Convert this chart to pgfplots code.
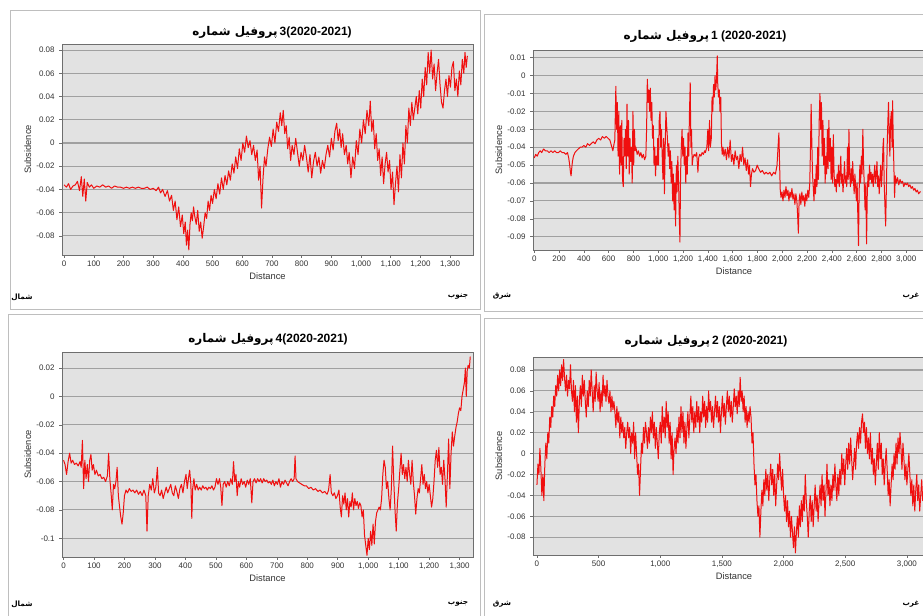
\documentclass[border=0pt]{standalone}
\usepackage{fontspec}
\usepackage{pgfplots}
\pgfplotsset{compat=1.18}
\setmainfont{Liberation Sans}
\newfontfamily\arabicfont[Script=Arabic]{DejaVu Sans}
\TeXXeTstate=1
\definecolor{plotbg}{RGB}{226,226,226}
\definecolor{gridc}{RGB}{160,160,160}
\definecolor{axisc}{RGB}{110,110,110}
\definecolor{framec}{RGB}{190,190,190}
\definecolor{linec}{RGB}{240,15,15}
\pgfplotsset{
  panel/.style={
    scale only axis, scaled ticks=false,
    axis background/.style={fill=plotbg},
    axis line style={draw=axisc, line width=0.5pt},
    ymajorgrids, grid style={draw=gridc, line width=0.8pt},
    tick align=outside, major tick length=2pt,
    tick style={draw=axisc, line width=0.4pt},
    xtick pos=bottom, ytick pos=left,
    ticklabel style={font=\fontsize{6}{7}\selectfont, text=black!80},
    xticklabel style={yshift=1pt},
    xlabel={Distance}, ylabel={Subsidence},
    xlabel style={font=\fontsize{7}{8}\selectfont, text=black!80, yshift=3pt},
    ylabel style={font=\fontsize{7}{8}\selectfont, text=black!80, yshift=-3pt},
    clip=true,
  },
  sline/.style={linec, line width=0.75pt, mark=none, line join=round},
}
\newcommand\ttl[1]{{\arabicfont\bfseries\beginR پروفیل شماره\endR}\,#1}
\begin{document}
\begin{tikzpicture}
\path[use as bounding box] (0pt,0pt) rectangle (692.25pt,-462pt);
\clip (0pt,0pt) rectangle (692.25pt,-462pt);
\fill[white] (0pt,0pt) rectangle (692.25pt,-462pt);
\begin{scope}[x=0.75pt,y=-0.75pt]
  \draw[framec, line width=0.6pt] (10,10) rectangle (480,309);
  \draw[framec, line width=0.6pt] (484,14) rectangle (930,311);
  \draw[framec, line width=0.6pt] (8,314) rectangle (480,620);
  \draw[framec, line width=0.6pt] (484,318) rectangle (930,620);
  % titles
  \node[font=\fontsize{9}{10}\selectfont\bfseries] at (272,32) {\ttl{3(2020-2021)}};
  \node[font=\fontsize{9}{10}\selectfont\bfseries] at (705,36) {\ttl{1 (2020-2021)}};
  \node[font=\fontsize{9}{10}\selectfont\bfseries] at (268,339) {\ttl{4(2020-2021)}};
  \node[font=\fontsize{9}{10}\selectfont\bfseries] at (706,341) {\ttl{2 (2020-2021)}};
  % corner labels
  \node[font=\fontsize{5.5}{6}\selectfont] at (22,297) {\arabicfont\bfseries\beginR شمال\endR};
  \node[font=\fontsize{5.5}{6}\selectfont] at (458,297) {\arabicfont\bfseries\beginR جنوب\endR};
  \node[font=\fontsize{5.5}{6}\selectfont] at (502,296) {\arabicfont\bfseries\beginR شرق\endR};
  \node[font=\fontsize{5.5}{6}\selectfont] at (911,296) {\arabicfont\bfseries\beginR غرب\endR};
  \node[font=\fontsize{5.5}{6}\selectfont] at (22,604) {\arabicfont\bfseries\beginR شمال\endR};
  \node[font=\fontsize{5.5}{6}\selectfont] at (458,604) {\arabicfont\bfseries\beginR جنوب\endR};
  \node[font=\fontsize{5.5}{6}\selectfont] at (502,604) {\arabicfont\bfseries\beginR شرق\endR};
  \node[font=\fontsize{5.5}{6}\selectfont] at (911,604) {\arabicfont\bfseries\beginR غرب\endR};
\end{scope}

% ---------------- Profile 3 (top left)
\begin{axis}[panel, at={(46.5pt,-191.25pt)}, anchor=south west,
  width=308.25pt, height=158.25pt,
  xmin=-7, xmax=1377, ymin=-0.0964, ymax=0.0852,
  xtick={0,100,...,1300},
  xticklabels={0,100,200,300,400,500,600,700,800,900,{1,000},{1,100},{1,200},{1,300}},
  ytick={-0.08,-0.06,-0.04,-0.02,0,0.02,0.04,0.06,0.08},
  yticklabels={-0.08,-0.06,-0.04,-0.02,0,0.02,0.04,0.06,0.08}]
\addplot[sline] coordinates {
(0,-0.036)(8,-0.038)(15,-0.035)(22,-0.040)(30,-0.037)(38,-0.036)(45,-0.033)(52,-0.041)(58,-0.029)(63,-0.046)(68,-0.031)(73,-0.050)(78,-0.034)(85,-0.038)(92,-0.036)(100,-0.039)(110,-0.037)(120,-0.038)(130,-0.036)(140,-0.038)(150,-0.037)(160,-0.039)(170,-0.037)(180,-0.038)(190,-0.038)(200,-0.039)(210,-0.038)(220,-0.039)(230,-0.038)(240,-0.039)(250,-0.038)(260,-0.039)(270,-0.039)(280,-0.038)(290,-0.040)(300,-0.039)(310,-0.041)(318,-0.038)(325,-0.043)(332,-0.040)(340,-0.046)(348,-0.041)(355,-0.050)(362,-0.045)(368,-0.058)(374,-0.050)(380,-0.066)(386,-0.055)(392,-0.072)(398,-0.062)(403,-0.078)(408,-0.068)(412,-0.088)(416,-0.075)(420,-0.092)(424,-0.070)(428,-0.060)(432,-0.067)(436,-0.055)(440,-0.063)(445,-0.070)(450,-0.058)(455,-0.076)(460,-0.068)(465,-0.082)(470,-0.072)(475,-0.060)(480,-0.065)(485,-0.050)(490,-0.058)(495,-0.045)(500,-0.052)(506,-0.040)(512,-0.048)(518,-0.035)(524,-0.044)(530,-0.030)(536,-0.040)(542,-0.028)(548,-0.036)(554,-0.024)(560,-0.032)(566,-0.018)(572,-0.026)(578,-0.012)(584,-0.022)(590,-0.005)(596,-0.015)(602,0.000)(608,-0.008)(614,0.006)(620,-0.004)(626,0.002)(632,-0.010)(638,-0.002)(644,-0.015)(650,-0.006)(655,-0.032)(660,-0.020)(665,-0.056)(670,-0.030)(675,-0.012)(680,-0.020)(686,-0.005)(692,0.005)(698,-0.003)(704,0.012)(710,0.000)(716,0.018)(722,0.010)(728,0.026)(733,0.015)(738,0.028)(743,0.008)(748,0.015)(753,-0.005)(758,0.005)(763,-0.015)(768,-0.002)(774,-0.010)(780,0.004)(786,-0.008)(792,-0.020)(798,-0.008)(804,-0.015)(810,-0.002)(816,-0.012)(822,-0.025)(828,-0.010)(834,-0.030)(840,-0.016)(846,-0.008)(852,-0.020)(858,-0.012)(864,-0.026)(870,-0.015)(876,-0.022)(882,-0.010)(888,-0.002)(894,-0.012)(900,0.004)(906,-0.006)(912,0.010)(918,0.017)(923,0.002)(928,0.012)(933,-0.004)(938,0.008)(944,-0.010)(950,-0.002)(955,-0.018)(960,-0.008)(966,-0.030)(972,-0.012)(978,-0.022)(984,0.002)(990,-0.010)(996,0.012)(1002,0.000)(1008,0.020)(1014,0.008)(1020,0.028)(1026,0.015)(1031,0.036)(1036,0.010)(1041,0.020)(1046,-0.005)(1051,0.008)(1056,-0.015)(1061,-0.005)(1066,-0.028)(1071,-0.012)(1076,-0.035)(1081,-0.018)(1086,-0.008)(1091,-0.025)(1096,-0.015)(1101,-0.040)(1106,-0.025)(1111,-0.053)(1116,-0.035)(1121,-0.020)(1126,-0.042)(1131,-0.010)(1136,-0.030)(1141,0.000)(1146,-0.018)(1151,0.015)(1156,0.000)(1161,0.030)(1166,0.015)(1171,0.035)(1176,0.020)(1181,0.030)(1186,0.040)(1191,0.025)(1196,0.045)(1201,0.030)(1206,0.055)(1211,0.040)(1216,0.065)(1221,0.050)(1226,0.078)(1231,0.060)(1236,0.080)(1241,0.055)(1246,0.068)(1251,0.045)(1256,0.060)(1261,0.072)(1266,0.050)(1271,0.035)(1276,0.030)(1281,0.045)(1286,0.055)(1291,0.040)(1296,0.058)(1301,0.048)(1306,0.065)(1311,0.070)(1316,0.045)(1321,0.055)(1326,0.040)(1331,0.062)(1336,0.050)(1341,0.072)(1346,0.060)(1350,0.078)(1354,0.065)(1358,0.075)
};
\end{axis}

% ---------------- Profile 1 (top right)
\begin{axis}[panel, at={(399.75pt,-187.5pt)}, anchor=south west,
  width=301.5pt, height=150pt,
  xmin=-10, xmax=3232, ymin=-0.0974, ymax=0.0143,
  xtick={0,200,...,3000},
  xticklabels={0,200,400,600,800,{1,000},{1,200},{1,400},{1,600},{1,800},{2,000},{2,200},{2,400},{2,600},{2,800},{3,000}},
  ytick={-0.09,-0.08,-0.07,-0.06,-0.05,-0.04,-0.03,-0.02,-0.01,0,0.01},
  yticklabels={-0.09,-0.08,-0.07,-0.06,-0.05,-0.04,-0.03,-0.02,-0.01,0,0.01}]
\addplot[sline] coordinates {
(0,-0.046)(12,-0.044)(24,-0.045)(36,-0.043)(48,-0.042)(60,-0.043)(75,-0.041)(90,-0.042)(105,-0.042)(120,-0.043)(135,-0.042)(150,-0.043)(165,-0.042)(180,-0.043)(195,-0.043)(210,-0.042)(225,-0.043)(240,-0.043)(255,-0.044)(268,-0.043)(278,-0.046)(286,-0.050)(292,-0.054)(297,-0.056)(302,-0.052)(308,-0.048)(316,-0.045)(328,-0.043)(340,-0.042)(355,-0.041)(370,-0.040)(385,-0.040)(400,-0.039)(415,-0.040)(430,-0.038)(445,-0.039)(460,-0.038)(475,-0.037)(490,-0.038)(505,-0.036)(520,-0.035)(535,-0.036)(550,-0.034)(565,-0.035)(580,-0.034)(595,-0.035)(610,-0.036)(622,-0.039)(634,-0.042)(644,-0.038)
(650,-0.036)(658,-0.006)(664,-0.030)(670,-0.015)(676,-0.045)(682,-0.020)(688,-0.055)(694,-0.028)(700,-0.050)(706,-0.025)(712,-0.058)(718,-0.062)(724,-0.035)(730,-0.045)(736,-0.030)(742,-0.052)(748,-0.016)(754,-0.045)(760,-0.025)(766,-0.055)(772,-0.035)(778,-0.048)(784,-0.040)(790,-0.060)(796,-0.020)(802,-0.050)(808,-0.030)(814,-0.042)(820,-0.040)(830,-0.044)(840,-0.042)(850,-0.045)(860,-0.043)(870,-0.046)(880,-0.044)(890,-0.047)(900,-0.045)(906,-0.030)(912,-0.002)(918,-0.015)(924,-0.008)(930,-0.020)(936,-0.007)(942,-0.025)(948,-0.015)(954,-0.035)(960,-0.028)(966,-0.050)(972,-0.040)(978,-0.056)(984,-0.045)(990,-0.050)(996,-0.035)(1002,-0.050)(1008,-0.025)(1014,-0.020)(1020,-0.040)(1026,-0.030)(1032,-0.045)(1038,-0.058)(1044,-0.035)(1050,-0.066)(1056,-0.040)(1062,-0.020)(1068,-0.028)(1074,-0.035)(1080,-0.045)(1086,-0.038)(1092,-0.052)(1098,-0.042)(1104,-0.060)(1110,-0.048)(1116,-0.070)(1122,-0.055)(1128,-0.075)(1134,-0.060)(1140,-0.084)(1146,-0.050)(1152,-0.065)(1158,-0.045)(1164,-0.060)(1170,-0.080)(1175,-0.093)(1180,-0.055)(1186,-0.040)(1192,-0.030)(1198,-0.045)(1204,-0.035)(1210,-0.050)(1216,-0.040)(1222,-0.060)(1228,-0.045)(1234,-0.055)(1240,-0.032)(1246,-0.045)(1252,-0.020)(1258,-0.004)(1263,-0.040)(1268,-0.030)(1274,-0.050)(1280,-0.046)(1290,-0.044)(1300,-0.045)(1310,-0.043)(1320,-0.054)(1326,-0.046)(1334,-0.044)(1344,-0.045)(1354,-0.043)(1364,-0.044)(1374,-0.042)
(1380,-0.043)(1392,-0.040)(1400,-0.030)(1406,-0.042)(1414,-0.025)(1420,-0.040)(1428,-0.035)(1434,-0.012)(1440,-0.020)(1446,-0.005)(1452,-0.012)(1458,0.000)(1464,-0.008)(1470,-0.002)(1476,0.011)(1480,-0.005)(1486,-0.012)(1492,-0.008)(1498,-0.020)(1504,-0.012)(1510,-0.038)(1516,-0.044)(1522,-0.040)
(1530,-0.045)(1540,-0.041)(1550,-0.047)(1560,-0.040)(1570,-0.046)(1580,-0.036)(1590,-0.048)(1600,-0.044)(1610,-0.050)(1620,-0.042)(1630,-0.047)(1640,-0.045)(1650,-0.052)(1660,-0.044)(1670,-0.048)(1680,-0.040)(1690,-0.050)(1700,-0.046)(1710,-0.053)(1720,-0.047)(1728,-0.055)(1736,-0.050)(1744,-0.062)(1752,-0.055)(1760,-0.052)(1772,-0.054)(1785,-0.053)(1798,-0.050)(1810,-0.052)(1825,-0.054)(1840,-0.053)(1855,-0.055)(1870,-0.054)(1885,-0.055)(1900,-0.054)(1915,-0.056)(1930,-0.054)(1945,-0.055)(1958,-0.050)(1966,-0.040)(1973,-0.032)(1978,-0.048)(1984,-0.064)(1990,-0.068)(1998,-0.065)(2006,-0.070)(2014,-0.064)(2022,-0.068)(2030,-0.062)(2038,-0.067)(2046,-0.064)(2054,-0.070)(2062,-0.065)(2070,-0.068)(2078,-0.063)(2086,-0.069)(2094,-0.066)(2102,-0.072)(2110,-0.066)(2118,-0.070)(2124,-0.078)(2130,-0.088)(2136,-0.070)(2142,-0.066)(2150,-0.072)(2158,-0.065)(2166,-0.070)(2174,-0.067)(2182,-0.073)(2190,-0.066)(2198,-0.070)(2206,-0.064)(2214,-0.068)(2222,-0.060)(2228,-0.040)(2233,-0.016)(2238,-0.035)(2244,-0.055)(2250,-0.062)(2256,-0.070)(2262,-0.058)(2268,-0.066)(2274,-0.050)(2280,-0.062)(2286,-0.040)(2292,-0.058)(2298,-0.025)(2304,-0.010)(2310,-0.030)(2316,-0.015)(2322,-0.045)(2328,-0.025)(2334,-0.050)(2340,-0.035)(2346,-0.060)(2352,-0.045)(2358,-0.055)(2364,-0.030)(2370,-0.052)(2376,-0.025)(2382,-0.048)(2388,-0.035)(2394,-0.058)(2400,-0.040)(2406,-0.060)(2412,-0.033)(2418,-0.055)(2424,-0.062)(2430,-0.058)(2436,-0.065)(2442,-0.055)(2448,-0.060)(2454,-0.050)(2460,-0.062)(2466,-0.056)(2472,-0.045)(2478,-0.060)(2484,-0.055)(2490,-0.065)(2496,-0.058)(2502,-0.048)(2508,-0.060)(2514,-0.056)(2520,-0.062)(2526,-0.040)(2532,-0.058)(2538,-0.030)(2544,-0.055)(2550,-0.062)(2556,-0.052)(2562,-0.060)(2568,-0.048)(2574,-0.058)(2580,-0.066)(2586,-0.055)(2592,-0.062)(2598,-0.070)(2604,-0.060)(2610,-0.080)(2615,-0.095)(2620,-0.065)(2626,-0.050)(2632,-0.060)(2638,-0.045)(2644,-0.055)(2650,-0.030)(2656,-0.050)(2662,-0.062)(2668,-0.075)(2674,-0.060)(2680,-0.094)(2686,-0.065)(2692,-0.055)(2698,-0.062)(2704,-0.050)(2710,-0.058)(2716,-0.054)(2722,-0.060)(2728,-0.055)(2734,-0.062)(2740,-0.056)(2746,-0.050)(2752,-0.060)(2758,-0.055)(2764,-0.048)(2770,-0.062)(2776,-0.056)(2782,-0.066)(2788,-0.058)(2794,-0.050)(2800,-0.062)(2806,-0.054)(2812,-0.040)(2817,-0.035)(2822,-0.060)(2828,-0.072)(2834,-0.084)(2840,-0.062)(2846,-0.040)(2852,-0.025)(2857,-0.015)(2862,-0.030)(2868,-0.045)(2874,-0.025)(2880,-0.020)(2886,-0.040)(2890,-0.014)(2895,-0.035)(2900,-0.050)(2906,-0.068)(2912,-0.056)(2920,-0.060)(2930,-0.057)(2940,-0.061)(2950,-0.058)(2960,-0.060)(2970,-0.059)(2980,-0.062)(2990,-0.060)(3000,-0.061)(3010,-0.060)(3020,-0.062)(3030,-0.061)(3040,-0.063)(3050,-0.062)(3060,-0.064)(3070,-0.063)(3080,-0.065)(3090,-0.064)(3100,-0.066)(3110,-0.065)(3118,-0.065)
};
\end{axis}

% ---------------- Profile 4 (bottom left)
\begin{axis}[panel, at={(46.5pt,-417.75pt)}, anchor=south west,
  width=308.25pt, height=153.75pt,
  xmin=-5, xmax=1344, ymin=-0.1132, ymax=0.0313,
  xtick={0,100,...,1300},
  xticklabels={0,100,200,300,400,500,600,700,800,900,{1,000},{1,100},{1,200},{1,300}},
  ytick={-0.1,-0.08,-0.06,-0.04,-0.02,0,0.02},
  yticklabels={-0.1,-0.08,-0.06,-0.04,-0.02,0,0.02}]
\addplot[sline] coordinates {
(0,-0.045)(5,-0.048)(10,-0.055)(15,-0.046)(20,-0.040)(25,-0.047)(30,-0.045)(36,-0.048)(42,-0.047)(48,-0.049)(54,-0.046)(58,-0.050)(62,-0.031)(66,-0.065)(70,-0.045)(74,-0.058)(78,-0.048)(82,-0.060)(86,-0.045)(90,-0.041)(94,-0.052)(98,-0.048)(103,-0.055)(108,-0.052)(114,-0.056)(120,-0.055)(126,-0.058)(132,-0.057)(138,-0.060)(144,-0.056)(148,-0.040)(152,-0.058)(156,-0.068)(160,-0.080)(164,-0.062)(168,-0.065)(172,-0.060)(176,-0.050)(180,-0.070)(184,-0.078)(188,-0.085)(192,-0.090)(196,-0.082)(200,-0.070)(205,-0.066)(210,-0.068)(216,-0.065)(222,-0.067)(228,-0.066)(234,-0.068)(240,-0.066)(246,-0.069)(252,-0.067)(258,-0.070)(264,-0.066)(270,-0.070)(274,-0.095)(278,-0.070)(283,-0.062)(288,-0.066)(293,-0.058)(298,-0.068)(303,-0.064)(308,-0.050)(312,-0.068)(317,-0.070)(322,-0.066)(327,-0.072)(332,-0.068)(337,-0.064)(342,-0.068)(347,-0.065)(352,-0.062)(357,-0.068)(362,-0.070)(367,-0.063)(372,-0.067)(377,-0.072)(382,-0.065)(387,-0.062)(392,-0.068)(397,-0.060)(402,-0.055)(406,-0.065)(410,-0.058)(414,-0.052)(418,-0.062)(421,-0.086)(424,-0.065)(428,-0.058)(432,-0.066)(437,-0.062)(442,-0.066)(447,-0.064)(452,-0.066)(457,-0.063)(462,-0.065)(467,-0.064)(472,-0.066)(477,-0.064)(482,-0.065)(487,-0.063)(492,-0.066)(497,-0.064)(502,-0.058)(507,-0.062)(512,-0.058)(516,-0.064)(520,-0.077)(524,-0.062)(529,-0.060)(534,-0.064)(539,-0.060)(544,-0.063)(549,-0.058)(554,-0.062)(558,-0.046)(562,-0.060)(566,-0.055)(570,-0.070)(574,-0.060)(578,-0.064)(583,-0.058)(588,-0.062)(593,-0.060)(598,-0.064)(603,-0.059)(608,-0.062)(613,-0.058)(618,-0.075)(622,-0.060)(627,-0.058)(632,-0.061)(637,-0.058)(642,-0.060)(647,-0.058)(652,-0.061)(657,-0.058)(662,-0.060)(667,-0.059)(672,-0.061)(677,-0.060)(682,-0.062)(687,-0.059)(692,-0.063)(697,-0.060)(702,-0.062)(707,-0.058)(712,-0.064)(717,-0.060)(722,-0.062)(727,-0.059)(732,-0.061)(737,-0.063)(742,-0.060)(747,-0.058)(752,-0.060)(757,-0.058)(760,-0.042)(763,-0.058)(768,-0.060)(775,-0.061)(782,-0.062)(790,-0.063)(797,-0.063)(805,-0.065)(812,-0.064)(820,-0.066)(827,-0.065)(835,-0.067)(842,-0.066)(850,-0.068)(857,-0.067)(865,-0.069)(870,-0.066)(875,-0.055)(879,-0.068)(884,-0.070)(889,-0.068)(894,-0.072)(899,-0.070)(904,-0.066)(908,-0.078)(912,-0.085)(916,-0.070)(920,-0.076)(924,-0.068)(928,-0.080)(932,-0.072)(936,-0.085)(940,-0.074)(944,-0.078)(948,-0.068)(952,-0.080)(956,-0.072)(960,-0.077)(964,-0.074)(968,-0.079)(972,-0.075)(976,-0.077)(980,-0.085)(984,-0.080)(988,-0.098)(992,-0.105)(996,-0.112)(1000,-0.100)(1004,-0.108)(1008,-0.095)(1012,-0.105)(1016,-0.090)(1020,-0.104)(1024,-0.088)(1028,-0.082)(1032,-0.080)(1036,-0.078)(1040,-0.080)(1044,-0.072)(1048,-0.055)(1052,-0.045)(1056,-0.050)(1060,-0.065)(1064,-0.060)(1068,-0.072)(1072,-0.080)(1076,-0.065)(1080,-0.035)(1084,-0.060)(1088,-0.080)(1092,-0.095)(1096,-0.075)(1100,-0.065)(1104,-0.052)(1108,-0.040)(1112,-0.055)(1116,-0.048)(1120,-0.058)(1124,-0.050)(1128,-0.060)(1132,-0.045)(1136,-0.055)(1140,-0.062)(1144,-0.045)(1148,-0.060)(1152,-0.070)(1156,-0.083)(1160,-0.072)(1164,-0.065)(1168,-0.068)(1172,-0.058)(1176,-0.048)(1180,-0.062)(1184,-0.055)(1188,-0.065)(1192,-0.060)(1196,-0.068)(1200,-0.062)(1204,-0.070)(1208,-0.078)(1212,-0.072)(1216,-0.060)(1220,-0.045)(1224,-0.038)(1228,-0.050)(1232,-0.036)(1236,-0.055)(1240,-0.050)(1244,-0.062)(1248,-0.045)(1252,-0.058)(1256,-0.078)(1260,-0.055)(1264,-0.030)(1268,-0.065)(1272,-0.040)(1276,-0.025)(1280,-0.035)(1284,-0.028)(1288,-0.022)(1292,-0.018)(1296,-0.012)(1300,-0.008)(1304,-0.010)(1308,0.000)(1312,0.005)(1316,0.010)(1319,0.020)(1322,0.000)(1325,0.018)(1328,0.022)(1332,0.020)(1335,0.028)
};
\end{axis}

% ---------------- Profile 2 (bottom right)
\begin{axis}[panel, at={(399.75pt,-416.25pt)}, anchor=south west,
  width=301.5pt, height=148.5pt,
  xmin=-32, xmax=3228, ymin=-0.097, ymax=0.0924,
  xtick={0,500,...,3000},
  xticklabels={0,500,{1,000},{1,500},{2,000},{2,500},{3,000}},
  ytick={-0.08,-0.06,-0.04,-0.02,0,0.02,0.04,0.06,0.08},
  yticklabels={-0.08,-0.06,-0.04,-0.02,0,0.02,0.04,0.06,0.08}]
\addplot[sline] coordinates {
(0,-0.030)(8,-0.010)(16,-0.020)(24,0.005)(32,-0.015)(40,-0.040)(48,-0.020)(56,-0.045)(64,-0.010)(72,0.010)(80,-0.005)(88,0.020)(96,0.010)(104,0.035)(112,0.025)(120,0.045)(128,0.035)(136,0.055)(144,0.045)(152,0.065)(160,0.055)(168,0.075)(176,0.060)(184,0.080)(192,0.065)(200,0.085)(208,0.070)(216,0.090)(224,0.072)(232,0.060)(240,0.075)(248,0.055)(256,0.070)(264,0.062)(272,0.085)(280,0.060)(288,0.050)(296,0.070)(304,0.040)(312,0.065)(320,0.030)(328,0.055)(336,0.020)(344,0.050)(352,0.065)(360,0.045)(368,0.075)(376,0.055)(384,0.070)(392,0.050)(400,0.035)(408,0.060)(416,0.045)(424,0.070)(432,0.055)(440,0.080)(448,0.060)(456,0.040)(464,0.065)(472,0.050)(480,0.078)(488,0.060)(496,0.050)(504,0.068)(512,0.040)(520,0.060)(528,0.045)(536,0.075)(544,0.055)(552,0.065)(560,0.050)(568,0.070)(576,0.055)(584,0.048)(592,0.060)(600,0.040)(608,0.055)(616,0.042)(624,0.050)(632,0.040)(640,0.025)(648,0.045)(656,0.030)(664,0.040)(672,0.015)(680,0.035)(688,0.020)(696,0.030)(704,0.015)(712,0.025)(720,0.005)(728,0.020)(736,0.030)(744,0.015)(752,0.025)(760,0.000)(768,0.020)(776,0.010)(784,0.030)(792,-0.005)(800,0.020)(808,0.000)(816,-0.020)(824,-0.010)(832,-0.040)(840,-0.015)(848,0.010)(856,0.000)(864,0.025)(872,0.010)(880,0.030)(888,0.020)(896,0.005)(904,0.025)(912,0.010)(920,0.035)(928,0.020)(936,0.040)(944,0.015)(952,0.030)(960,0.005)(968,0.025)(976,0.010)(984,-0.005)(992,0.020)(1000,0.030)(1008,0.010)(1016,0.045)(1024,0.020)(1032,0.035)(1040,0.015)(1048,0.050)(1056,0.025)(1064,0.040)(1072,0.010)(1080,0.030)(1088,-0.005)(1096,0.020)(1104,-0.020)(1112,0.005)(1120,0.015)(1128,0.000)(1136,0.025)(1144,0.010)(1152,0.035)(1160,0.015)(1168,0.045)(1176,0.020)(1184,0.040)(1192,0.010)(1200,0.030)(1208,0.005)(1216,0.025)(1224,0.040)(1232,0.015)(1240,0.035)(1248,0.055)(1256,0.030)(1264,0.045)(1272,0.020)(1280,0.040)(1288,0.025)(1296,0.050)(1304,0.030)(1312,0.045)(1320,0.020)(1328,0.040)(1336,0.030)(1344,0.055)(1352,0.035)(1360,0.050)(1368,0.025)(1376,0.045)(1384,0.030)(1392,0.060)(1400,0.040)(1408,0.050)(1416,0.030)(1424,0.045)(1432,0.025)(1440,0.040)(1448,0.055)(1456,0.035)(1464,0.050)(1472,0.030)(1480,0.045)(1488,0.020)(1496,0.040)(1504,0.055)(1512,0.035)(1520,0.048)(1528,0.028)(1536,0.045)(1544,0.060)(1552,0.040)(1560,0.055)(1568,0.035)(1576,0.050)(1584,0.030)(1592,0.045)(1600,0.062)(1608,0.045)(1616,0.055)(1624,0.038)(1632,0.060)(1640,0.045)(1648,0.073)(1656,0.050)(1664,0.060)(1672,0.040)(1680,0.055)(1688,0.030)(1696,0.045)(1704,0.025)(1712,0.040)(1720,0.030)(1728,0.045)(1736,0.035)(1744,0.010)(1752,0.020)(1760,-0.010)(1768,-0.030)(1776,-0.020)(1784,-0.045)(1792,-0.060)(1800,-0.050)(1808,-0.080)(1816,-0.055)(1824,-0.035)(1832,-0.050)(1840,-0.025)(1848,-0.040)(1856,-0.015)(1864,-0.035)(1872,-0.020)(1880,-0.045)(1888,-0.025)(1896,-0.010)(1904,-0.030)(1912,-0.015)(1920,-0.040)(1928,-0.020)(1936,-0.050)(1944,-0.030)(1952,-0.010)(1960,-0.025)(1968,0.000)(1976,-0.020)(1984,-0.035)(1992,-0.015)(2000,-0.040)(2008,-0.055)(2016,-0.040)(2024,-0.065)(2032,-0.045)(2040,-0.070)(2048,-0.055)(2056,-0.080)(2064,-0.060)(2072,-0.075)(2080,-0.090)(2088,-0.070)(2096,-0.095)(2104,-0.075)(2112,-0.060)(2120,-0.080)(2128,-0.050)(2136,-0.070)(2144,-0.045)(2152,-0.065)(2160,-0.040)(2168,-0.055)(2176,-0.020)(2184,-0.045)(2192,-0.060)(2200,-0.080)(2208,-0.055)(2216,-0.040)(2224,-0.065)(2232,-0.045)(2240,-0.070)(2248,-0.050)(2256,-0.030)(2264,-0.055)(2272,-0.040)(2280,-0.065)(2288,-0.045)(2296,-0.030)(2304,-0.050)(2312,-0.020)(2320,-0.045)(2328,-0.030)(2336,-0.060)(2344,-0.035)(2352,-0.010)(2360,-0.040)(2368,-0.025)(2376,-0.050)(2384,-0.030)(2392,-0.045)(2400,-0.020)(2408,-0.035)(2416,-0.010)(2424,-0.030)(2432,-0.045)(2440,-0.020)(2448,-0.040)(2456,-0.015)(2464,-0.030)(2472,0.000)(2480,-0.020)(2488,-0.005)(2496,-0.030)(2504,-0.010)(2512,0.005)(2520,-0.015)(2528,0.010)(2536,-0.010)(2544,0.015)(2552,-0.005)(2560,-0.025)(2568,-0.010)(2576,0.005)(2584,-0.015)(2592,0.010)(2600,0.020)(2608,0.005)(2616,0.025)(2624,0.010)(2632,0.030)(2640,0.038)(2648,0.020)(2656,0.030)(2664,0.005)(2672,0.025)(2680,0.000)(2688,0.015)(2696,-0.005)(2704,0.020)(2712,-0.010)(2720,0.005)(2728,-0.020)(2736,-0.005)(2744,-0.030)(2752,-0.010)(2760,0.010)(2768,-0.015)(2776,0.020)(2784,-0.005)(2792,0.010)(2800,-0.020)(2808,-0.005)(2816,-0.030)(2824,-0.010)(2832,0.005)(2840,-0.015)(2848,-0.040)(2856,-0.025)(2864,-0.050)(2872,-0.030)(2880,-0.010)(2888,-0.025)(2896,0.000)(2904,-0.015)(2912,0.010)(2920,-0.010)(2928,0.015)(2936,0.000)(2944,0.020)(2952,0.005)(2960,-0.015)(2968,0.010)(2976,-0.005)(2984,-0.025)(2992,-0.010)(3000,-0.030)(3008,-0.015)(3016,0.000)(3024,-0.020)(3032,-0.040)(3040,-0.025)(3048,-0.050)(3056,-0.030)(3064,-0.055)(3072,-0.035)(3080,-0.020)(3088,-0.045)(3096,-0.030)(3104,-0.055)(3112,-0.040)(3120,-0.025)(3128,-0.045)(3136,-0.035)(3144,-0.050)(3152,-0.040)
};
\end{axis}
\end{tikzpicture}
\end{document}
